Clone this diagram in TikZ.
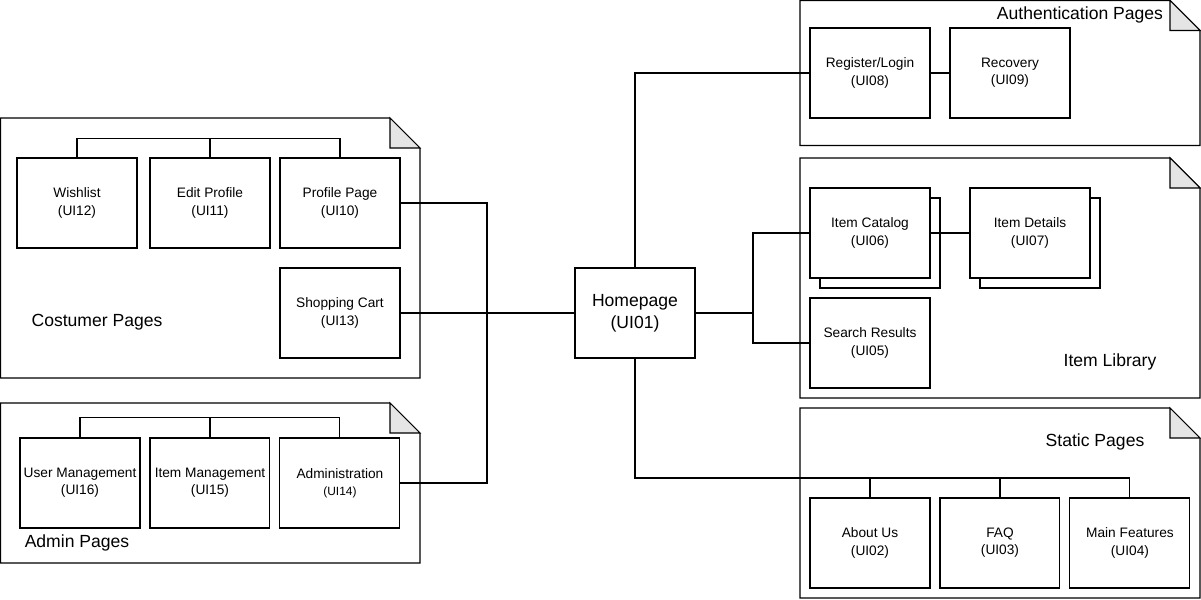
\documentclass[tikz,border=0pt]{standalone}
\usepackage{fontspec}
\setmainfont{Liberation Sans}
\usetikzlibrary{positioning}

% group of pages: note with a folded corner
\newcommand{\pagegroup}[4]{%
  \draw[fill=white] (#1,#2) -- (#3-30,#2) -- (#3,#2+30) -- (#3,#4) -- (#1,#4) -- cycle;
  \draw[fill=black!10] (#3-30,#2) -- (#3-30,#2+30) -- (#3,#2+30) -- cycle;
}

\begin{document}
\begin{tikzpicture}[x=0.02cm,y=-0.02cm,line width=0.6pt,node distance=2.6cm,
    page/.style={rectangle,draw,fill=white,minimum width=2.4cm,minimum height=1.8cm,
                 inner sep=1pt,align=center,font=\fontsize{7.8}{9.8}\selectfont},
    group label/.style={font=\fontsize{10}{12}\selectfont}]

 \useasboundingbox (0,0) rectangle (1201,599);

 \pagegroup{0.5}{118}{420}{378}
 \pagegroup{0.5}{403}{420}{563}
 \pagegroup{800}{0.5}{1200}{145.5}
 \pagegroup{800}{158}{1200}{398}
 \pagegroup{800}{408}{1200}{598}

 \node[page,font=\fontsize{10}{12.3}\selectfont] (ui01) at (635,313) {Homepage\\(UI01)};

 \node[page] (ui12) at (77,203) {Wishlist\\(UI12)};
 \node[page] (ui11) at (210,203) {Edit Profile\\(UI11)};
 \node[page] (ui10) at (340,203) {Profile Page\\(UI10)};
 \node[page] (ui13) at (340,313) {Shopping Cart\\(UI13)};
 \node[group label] (customer) at (97,322) {Costumer Pages};

 \node[page] (ui16) at (80,483) {User Management\\(UI16)};
 \node[page] (ui15) [right of=ui16] {Item Management\\(UI15)};
 \node[page] (ui14) [right of=ui15] {Administration\\{\fontsize{6.8}{8}\selectfont(UI14)}};
 \node[group label] (admin) at (77,543) {Admin Pages};

 \node[page] (ui08) at (870,73) {Register/Login\\(UI08)};
 \node[page] (ui09) at (1010,73) {Recovery\\(UI09)};
 \node[group label] (auth) at (1080,15) {Authentication Pages};

 \node[page] (ui06s) at (880,243) {};
 \node[page] (ui06) at (870,233) {Item Catalog\\(UI06)};
 \node[page] (ui07s) at (1040,243) {};
 \node[page] (ui07) at (1030,233) {Item Details\\(UI07)};
 \node[page] (ui05) at (870,343) {Search Results\\(UI05)};
 \node[group label] (library) at (1110,362) {Item Library};

 \node[page] (ui02) at (870,543) {About Us\\(UI02)};
 \node[page] (ui03) [right of=ui02] {FAQ\\(UI03)};
 \node[page] (ui04) [right of=ui03] {Main Features\\(UI04)};
 \node[group label] (static) at (1095,442) {Static Pages};

 \coordinate (lj) at (487,313);
 \coordinate (rj) at (753,313);
 \coordinate (sj) at (635,478);

 \draw (ui10.east) -| (lj) |- (ui14.east);
 \draw (ui13.east) -- (lj) -- (ui01.west);
 \draw (ui01.north) |- (ui08.west);
 \draw (ui08) -- (ui09);
 \draw (ui01.east) -- (rj) |- (ui06.west);
 \draw (rj) |- (ui05.west);
 \draw (ui06) -- (ui07);
 \draw (ui01.south) -- (sj) -| (ui04.north);
 \draw (sj) -| (ui02.north);
 \draw (sj) -| (ui03.north);

 \draw (ui12.north) -- ++(0,-19) -| (ui10.north);
 \draw (ui11.north) -- ++(0,-19);
 \draw (ui16.north) -- ++(0,-20) -| (ui14.north);
 \draw (ui15.north) -- ++(0,-20);

\end{tikzpicture}
\end{document}
